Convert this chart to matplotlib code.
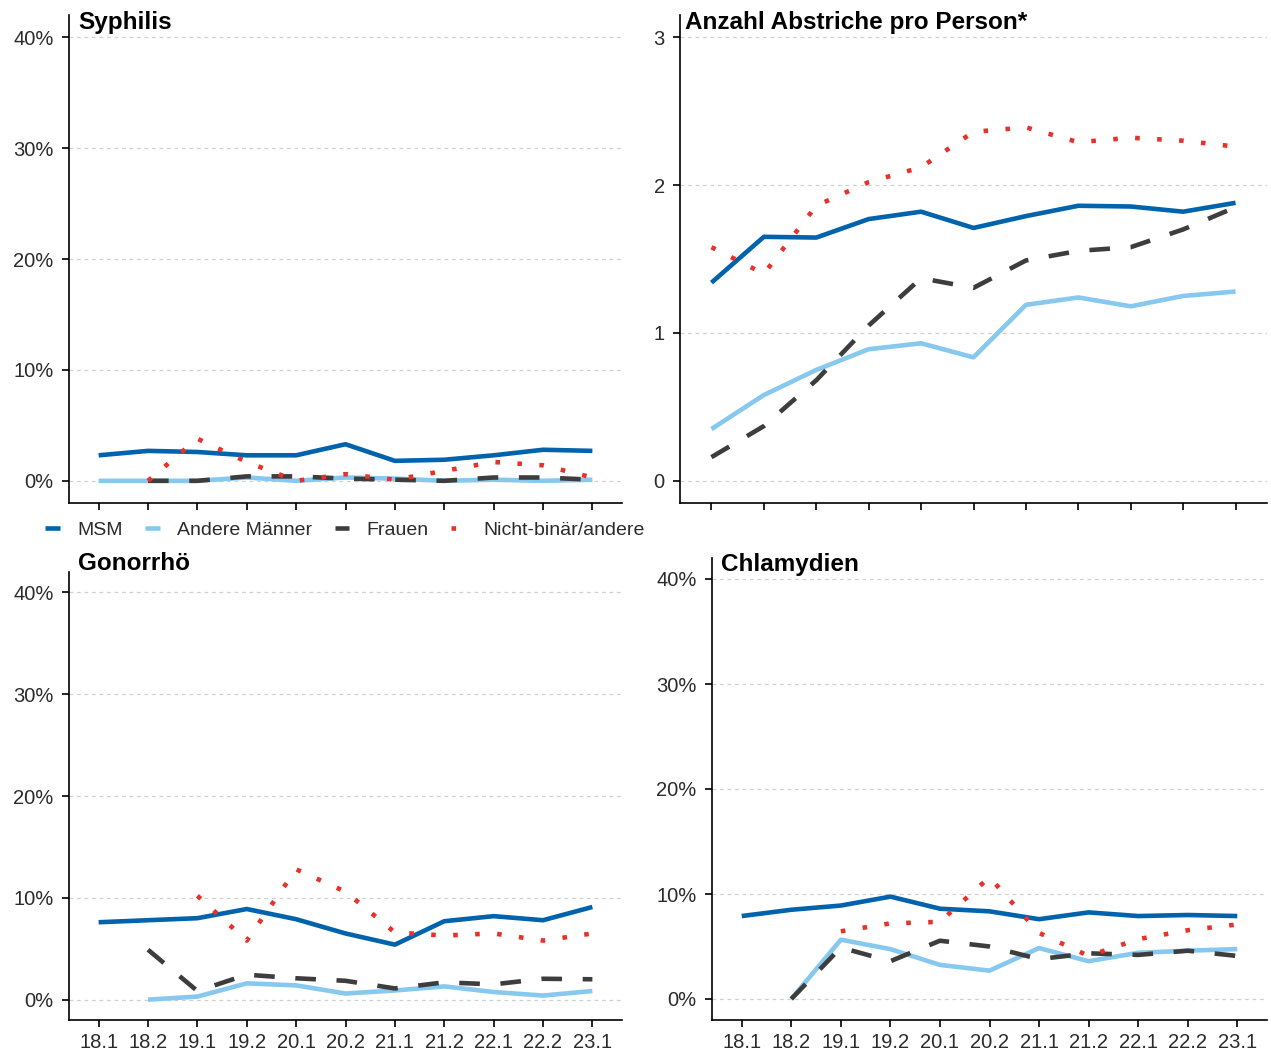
import numpy as np
import matplotlib
matplotlib.use("Agg")
import matplotlib.pyplot as plt
from matplotlib.ticker import FuncFormatter

plt.rcParams['font.family'] = ['Liberation Sans', 'DejaVu Sans']

nan = np.nan
quarters = ["18.1", "18.2", "19.1", "19.2", "20.1", "20.2", "21.1", "21.2", "22.1", "22.2", "23.1"]
groups = ["MSM", "Andere Männer", "Frauen", "Nicht-binär/andere"]

# Syphilis, % positiv
syph_msm = [2.3, 2.7, 2.6, 2.3, 2.3, 3.3, 1.8, 1.9, 2.3, 2.8, 2.7]
syph_am = [0.0, 0.0, 0.0, 0.3, 0.0, 0.3, 0.2, 0.0, 0.1, 0.0, 0.1]
syph_fr = [nan, 0.0, 0.0, 0.4, 0.4, 0.2, 0.1, 0.0, 0.3, 0.3, 0.1]
syph_nb = [nan, 0.0, 3.8, 1.7, 0.0, 0.6, 0.1, 0.9, 1.7, 1.4, 0.3]

# Abstriche pro Person
abs_msm = [1.34, 1.65, 1.645, 1.77, 1.82, 1.71, 1.79, 1.86, 1.855, 1.82, 1.88]
abs_am = [0.35, 0.58, 0.75, 0.89, 0.93, 0.835, 1.19, 1.24, 1.18, 1.25, 1.28]
abs_fr = [0.16, 0.37, 0.68, 1.05, 1.37, 1.305, 1.49, 1.555, 1.58, 1.70, 1.85]
abs_nb = [1.58, 1.40, 1.86, 2.02, 2.12, 2.36, 2.39, 2.29, 2.32, 2.30, 2.26]

# Gonorrhö, % positiv
gono_msm = [7.6, 7.8, 8.0, 8.9, 7.9, 6.5, 5.4, 7.7, 8.2, 7.8, 9.1]
gono_am = [nan, 0.0, 0.3, 1.6, 1.4, 0.6, 0.9, 1.3, 0.75, 0.4, 0.85]
gono_fr = [nan, 4.9, 0.85, 2.45, 2.1, 1.85, 1.1, 1.7, 1.5, 2.05, 2.0]
gono_nb = [nan, nan, 10.2, 5.8, 12.8, 10.6, 6.6, 6.3, 6.5, 5.8, 6.5]

# Chlamydien, % positiv
chla_msm = [7.9, 8.5, 8.9, 9.75, 8.6, 8.35, 7.6, 8.25, 7.9, 8.0, 7.9]
chla_am = [nan, 0.0, 5.65, 4.75, 3.25, 2.7, 4.85, 3.6, 4.4, 4.6, 4.75]
chla_fr = [nan, 0.0, 4.9, 3.6, 5.55, 5.0, 3.8, 4.35, 4.2, 4.6, 4.1]
chla_nb = [nan, nan, 6.45, 7.2, 7.35, 11.6, 6.3, 4.1, 5.7, 6.55, 7.1]

colors = ["#0063ab", "#86c8ee", "#3d3d3d", "#e8312b"]
lw = 3.3
styles = [dict(linestyle="-", solid_capstyle="butt"),
          dict(linestyle="-", solid_capstyle="butt"),
          dict(linestyle=(0, (4.5, 4.5))),
          dict(linestyle=(0, (1, 3.8)))]

W, H = 1271, 1054
fig = plt.figure(figsize=(W / 100, H / 100), dpi=100)


def px_axes(left, top, right, bottom):
    return fig.add_axes([left / W, 1 - bottom / H, (right - left) / W, (bottom - top) / H])


ax_syph = px_axes(69, 15, 622, 503)
ax_abs = px_axes(680, 15, 1267, 503)
ax_gono = px_axes(69, 572, 622, 1020)
ax_chla = px_axes(712, 558, 1267, 1020)

panels = [
    (ax_syph, "Syphilis", [syph_msm, syph_am, syph_fr, syph_nb], True, False),
    (ax_abs, "Anzahl Abstriche pro Person*", [abs_msm, abs_am, abs_fr, abs_nb], False, False),
    (ax_gono, "Gonorrhö", [gono_msm, gono_am, gono_fr, gono_nb], True, True),
    (ax_chla, "Chlamydien", [chla_msm, chla_am, chla_fr, chla_nb], True, True),
]
title_pos = {"Syphilis": (0.016, 0.984), "Anzahl Abstriche pro Person*": (0.009, 0.984),
             "Gonorrhö": (0.016, 1.018), "Chlamydien": (0.016, 0.987)}

x = np.arange(len(quarters))
handles = []
for ax, title, series, pct, xlabels in panels:
    for i, vals in enumerate(series):
        ln, = ax.plot(x, vals, color=colors[i], lw=lw, label=groups[i], **styles[i])
        if title == "Syphilis":
            handles.append(ln)
    if pct:
        ax.set_ylim(-2, 42)
        ax.set_yticks([0, 10, 20, 30, 40])
        ax.yaxis.set_major_formatter(FuncFormatter(lambda v, p: f"{v:.0f}%"))
    else:
        ax.set_ylim(-0.15, 3.15)
        ax.set_yticks([0, 1, 2, 3])
    ax.set_xlim(-0.6, len(quarters) - 0.4)
    ax.set_xticks(x)
    ax.set_xticklabels(quarters if xlabels else [""] * len(quarters))
    ax.grid(axis="y", color="#d0d0d0", linestyle=(0, (3, 3)), lw=0.9)
    ax.set_axisbelow(True)
    for s in ["top", "right"]:
        ax.spines[s].set_visible(False)
    for s in ["left", "bottom"]:
        ax.spines[s].set_linewidth(1.2)
    ax.tick_params(axis="both", length=5, width=1.2, color="black",
                   labelsize=14.5, labelcolor="#2b2b2b")
    ax.tick_params(axis="y", pad=6)
    ax.tick_params(axis="x", pad=4)
    tx, ty = title_pos[title]
    ax.text(tx, ty, title, transform=ax.transAxes, ha="left", va="center",
            fontsize=17.5, fontweight="bold", color="black")

leg = fig.legend(handles, groups, loc="center", bbox_to_anchor=(345 / W, 1 - 530 / H),
                 ncol=4, frameon=False, fontsize=14, handlelength=0.75,
                 handletextpad=0.9, columnspacing=1.15, labelcolor="#2b2b2b")

fig.savefig("out.png", dpi=100)
